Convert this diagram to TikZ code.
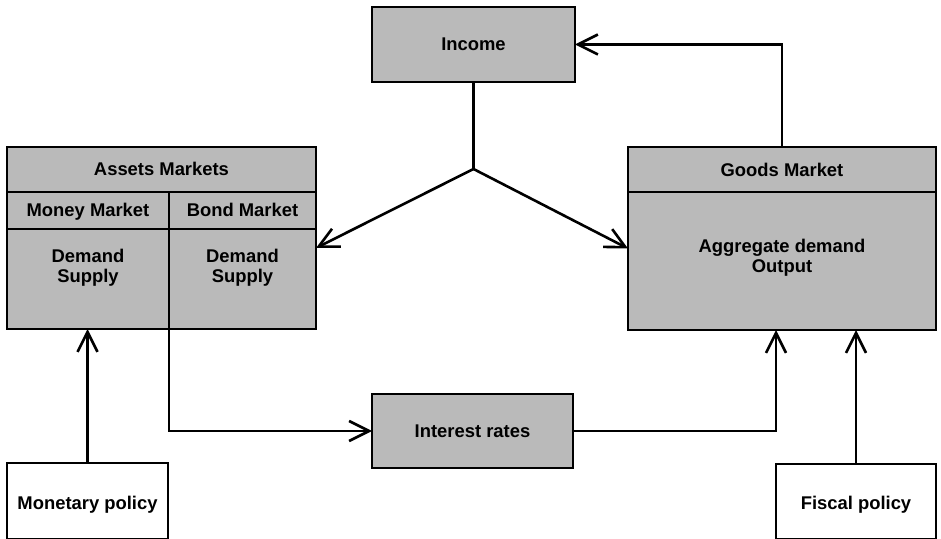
\documentclass[tikz,border=0pt]{standalone}
\usepackage{fontspec}
\setmainfont{Liberation Sans}
\usetikzlibrary{arrows.meta}

\begin{document}
\begin{tikzpicture}[x=0.5pt,y=-0.5pt,
  lbl/.style={font=\fontsize{9.2pt}{9.8pt}\selectfont\bfseries,align=center,text height=1.6ex,text depth=.4ex},
  box/.style={draw,line width=1pt,fill=black!27,inner sep=0pt,outer sep=0pt,lbl},
  policy/.style={box,fill=white},
  arr/.style={line width=1.3pt,-{Straight Barb[length=10pt,width=10pt,line width=1.3pt]}}]
\useasboundingbox (0,0) rectangle (941,539);
\node[box,minimum width=101.5pt,minimum height=37.5pt] (income) at (473.5,44.5) {Income};
\node[box,minimum width=154.5pt,minimum height=91pt] (assets) at (161.5,238) {};
\node[box,minimum width=154pt,minimum height=91.5pt] (goods) at (782,238.5) {};
\node[box,minimum width=100.5pt,minimum height=37pt] (interest) at (472.5,431) {Interest rates};
\node[policy,minimum width=80.5pt,minimum height=38pt] (monetary) at (87.5,501) {};
\node[policy,minimum width=80pt,minimum height=37.5pt] (fiscal) at (856,501.5) {};
\node[lbl] (montext) at (87.5,503) {Monetary policy};
\node[lbl] (fistext) at (856,503) {Fiscal policy};
\draw[line width=1pt] (assets.west |- 0,192) -- (assets.east |- 0,192);
\draw[line width=1pt] (assets.west |- 0,229) -- (assets.east |- 0,229);
\draw[line width=1pt] (169,192) -- (169,329);
\draw[line width=1pt] (goods.west |- 0,192) -- (goods.east |- 0,192);
\node[lbl] (assetshead) at (161.5,169.5) {Assets Markets};
\node[lbl] (money) at (88,210.5) {Money Market};
\node[lbl] (bond) at (242.5,210.5) {Bond Market};
\node[lbl,text height=,text depth=] (moneyds) at (88,268) {Demand\\Supply};
\node[lbl,text height=,text depth=] (bondds) at (242.5,268) {Demand\\Supply};
\node[lbl] (goodshead) at (782,170) {Goods Market};
\node[lbl,text height=,text depth=] (aggdem) at (782,258) {Aggregate demand\\Output};
\coordinate (split) at (473.5,169);
\coordinate (bondfoot) at (169,329);
\draw[arr] (goods.north) |- (income.east);
\draw[line width=1.3pt] (income.south) -- (split);
\draw[arr] (split) -- ([yshift=-5pt]assets.east);
\draw[arr] (split) -- ([yshift=-5pt]goods.west);
\draw[arr] (monetary.north) -- (monetary.north |- assets.south);
\draw[arr] (bondfoot) |- (interest.west);
\draw[arr] (interest.east) -| ([xshift=-3pt]goods.south);
\draw[arr] (fiscal.north) -- (fiscal.north |- goods.south);
\end{tikzpicture}
\end{document}
